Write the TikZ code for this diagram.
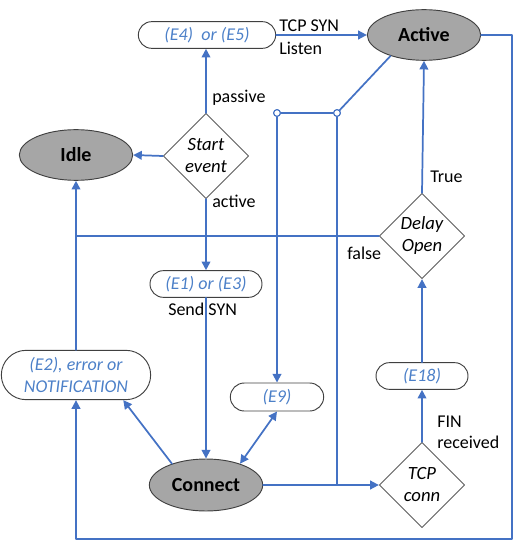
\documentclass[tikz,border=0pt]{standalone}
\usepackage{fontspec}
\setmainfont{Carlito}
\usetikzlibrary{arrows.meta,calc,positioning,shapes.geometric,shapes.misc}
\definecolor{linkblue}{RGB}{68,114,196}
\definecolor{eventblue}{RGB}{76,128,200}
\definecolor{stategray}{RGB}{166,166,166}
\definecolor{edgegray}{RGB}{64,64,64}
\tikzset{
  every node/.style={font=\fontsize{13.5}{16}\selectfont},
  state/.style={ellipse, draw=edgegray, fill=stategray, line width=0.7pt,
    inner sep=0pt, minimum width=85pt, minimum height=38pt,
    font=\fontsize{15}{17}\selectfont\bfseries},
  event/.style={rounded rectangle, draw=edgegray, line width=0.7pt,
    inner sep=0pt, minimum height=20pt, text=eventblue, align=center,
    font=\fontsize{13.5}{16}\selectfont\itshape},
  decision/.style={diamond, aspect=1, draw=edgegray!85, line width=0.7pt,
    inner sep=0pt, minimum size=64pt, align=center,
    font=\fontsize{14}{16.5}\selectfont\itshape},
  wire/.style={draw=linkblue, line width=1.3pt},
  link/.style={wire, -{Triangle[length=6.5pt,width=6.5pt]}},
  tap/.style={circle, draw=linkblue, fill=white, line width=0.8pt,
    inner sep=0pt, minimum size=5pt},
  note/.style={inner sep=0pt, anchor=west}
}

\begin{document}
\begin{tikzpicture}[x=0.75pt, y=-0.75pt, line cap=round, line join=round]
  \useasboundingbox (0,0) rectangle (524,545);

  \node[state] (active) at (424,35) {Active};
  \node[state] (idle) at (76,155) {Idle};
  \node[state, minimum height=39pt] (connect) at (206,485) {Connect};

  \node[event, minimum width=103pt] (ev45) at (207,35) {(E4)~~or (E5)};
  \node[event, minimum width=84pt] (ev13) at (206,284) {(E1) or (E3)};
  \node[event, minimum width=112pt, minimum height=37pt] (ev2) at (76,375)
    {(E2), error or\\NOTIFICATION};
  \node[event, minimum width=70pt, minimum height=21pt] (ev9) at (277,397) {(E9)};
  \node[event, minimum width=69pt] (ev18) at (422,376) {(E18)};

  \node[decision] (start) at (206,156) {Start\\event};
  \node[decision] (delay) at (422,236) {Delay\\Open};
  \node[decision] (tcp) at (422,485) {TCP\\conn};

  \node[tap] (j1) at (277,113) {};
  \node[tap] (j2) at (337,113) {};
  \coordinate (se) at (512,539);

  \node[note] (syn) at (279,26) {TCP SYN};
  \node[note] (listen) at (279,48) {Listen};
  \node[note] (passive) at (212,98) {passive};
  \node[note] (act) at (212,201) {active};
  \node[note] (send) at (168,309) {Send SYN};
  \node[note] (false) at (347,253) {false};
  \node[note] (true) at (430,177) {True};
  \node[note, align=left] (fin) at (437,432) {FIN\\received};

  \draw[link] (ev45.east) -- (active.west);
  \draw[link] (start.north) -- (start.north |- ev45.south);
  \draw[link] (start.west) -- (idle.east);
  \draw[link] (start.south) -- (ev13.north);
  \draw[link] (ev13.south) -- (connect.north);
  \draw[link] (ev2.north) -- (idle.south);
  \draw[wire] (delay.west) -- (delay.west -| ev2.north);
  \draw[link] (connect.148) -- (ev2.-28);
  \draw[{Triangle[length=6.5pt,width=6.5pt]}-{Triangle[length=6.5pt,width=6.5pt]}, wire]
    (connect.32) -- (ev9.south);
  \draw[link] (j1) -- (ev9.north);
  \draw[wire] (j1) -- (j2);
  \draw[wire] (j2) -- (active.-148);
  \draw[wire] (j2) -- (j2 |- connect.east);
  \draw[link] (connect.east) -- (tcp.west);
  \draw[link] (tcp.north) -- (ev18.south);
  \draw[link] (ev18.north) -- (delay.south);
  \draw[link] (delay.north) -- (active.south);
  \draw[link] (active.east) -| (se) -| (ev2.south);
  \node[tap] at (j1) {};
  \node[tap] at (j2) {};
\end{tikzpicture}
\end{document}
